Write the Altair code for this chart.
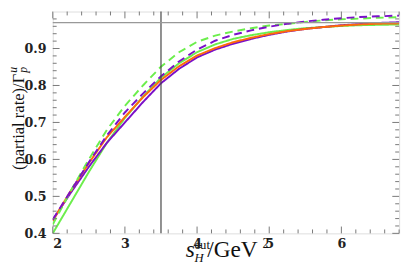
import altair as alt
import pandas as pd

# ---- data ----
s_cut = [2.0, 2.25, 2.5, 2.75, 3.0, 3.25, 3.5, 3.75, 4.0, 4.25, 4.5, 4.75,
         5.0, 5.25, 5.5, 5.75, 6.0, 6.25, 6.5, 6.8]
purple_solid = [0.436, 0.510, 0.580, 0.645, 0.700, 0.755, 0.806, 0.845, 0.876, 0.897,
                0.913, 0.926, 0.937, 0.946, 0.953, 0.958, 0.963, 0.966, 0.969, 0.971]
orange_solid = [0.434, 0.515, 0.590, 0.660, 0.715, 0.768, 0.815, 0.852, 0.881, 0.901,
                0.917, 0.929, 0.939, 0.947, 0.953, 0.958, 0.962, 0.965, 0.967, 0.968]
green_solid = [0.400, 0.483, 0.566, 0.645, 0.712, 0.770, 0.821, 0.860, 0.890, 0.911,
               0.926, 0.936, 0.944, 0.950, 0.955, 0.958, 0.961, 0.963, 0.964, 0.965]
green_dashed = [0.424, 0.515, 0.600, 0.680, 0.745, 0.800, 0.851, 0.890, 0.918, 0.935,
                0.946, 0.955, 0.962, 0.967, 0.972, 0.976, 0.979, 0.981, 0.983, 0.985]
purple_dashed = [0.437, 0.515, 0.592, 0.665, 0.727, 0.778, 0.825, 0.865, 0.897, 0.921,
                 0.937, 0.949, 0.959, 0.967, 0.973, 0.978, 0.982, 0.985, 0.987, 0.989]

series_names = ["green_solid", "purple_solid", "orange_solid", "green_dashed", "purple_dashed"]
series_vals = [green_solid, purple_solid, orange_solid, green_dashed, purple_dashed]
series_colors = ["#6CEE4C", "#7A10C8", "#FF6A0A", "#6CEE4C", "#7A10C8"]
series_dash = [[1, 0], [1, 0], [1, 0], [8, 5], [8, 5]]

x_major = [2, 3, 4, 5, 6]
y_major = [0.4, 0.5, 0.6, 0.7, 0.8, 0.9]
x_minor = [round(2 + 0.2 * i, 2) for i in range(0, 25) if (i % 5) != 0]
y_minor = [round(0.4 + 0.02 * i, 3) for i in range(0, 31) if (i % 5) != 0]
v_line = [3.5]
h_line = [0.97]

W, H = 356, 228
XDOM = [2, 6.8]
YDOM = [0.4, 1.0]

xs = alt.Scale(domain=XDOM, nice=False, zero=False)
ys = alt.Scale(domain=YDOM, nice=False, zero=False)

LABEL_FONT = "'DejaVu Serif', serif"
TITLE_FONT = "'Liberation Serif', serif"

xaxis = alt.Axis(values=x_major, format="d", ticks=False, domain=False, grid=False,
                 labelFont=LABEL_FONT, labelFontWeight="bold", labelFontSize=13,
                 labelColor="#222", labelPadding=5, title=None)
yaxis = alt.Axis(values=y_major, format=".1f", ticks=False, domain=False, grid=False,
                 labelFont=LABEL_FONT, labelFontWeight="bold", labelFontSize=13,
                 labelColor="#222", labelPadding=7, title=None)

layers = []
for name, vals, col, dash in zip(series_names, series_vals, series_colors, series_dash):
    df = pd.DataFrame({"x": s_cut, "y": vals})
    layers.append(
        alt.Chart(df).mark_line(color=col, strokeWidth=2, strokeDash=dash, clip=True)
        .encode(x=alt.X("x:Q", scale=xs, axis=xaxis), y=alt.Y("y:Q", scale=ys, axis=yaxis))
    )

vdf = pd.DataFrame({"x": v_line})
hdf = pd.DataFrame({"y": h_line})
layers.append(alt.Chart(vdf).mark_rule(color="#444", strokeWidth=1.2)
              .encode(x=alt.X("x:Q", scale=xs)))
layers.append(alt.Chart(hdf).mark_rule(color="#999", strokeWidth=1.5)
              .encode(y=alt.Y("y:Q", scale=ys)))

tick_col = "#777"
def xticks(vals, length):
    d = pd.DataFrame({"x": vals})
    b = alt.Chart(d).mark_rule(color=tick_col, strokeWidth=1).encode(
        x=alt.X("x:Q", scale=xs), y=alt.value(H), y2=alt.value(H - length))
    t = alt.Chart(d).mark_rule(color=tick_col, strokeWidth=1).encode(
        x=alt.X("x:Q", scale=xs), y=alt.value(0), y2=alt.value(length))
    return [b, t]

def yticks(vals, length):
    d = pd.DataFrame({"y": vals})
    l = alt.Chart(d).mark_rule(color=tick_col, strokeWidth=1).encode(
        y=alt.Y("y:Q", scale=ys), x=alt.value(0), x2=alt.value(length))
    r = alt.Chart(d).mark_rule(color=tick_col, strokeWidth=1).encode(
        y=alt.Y("y:Q", scale=ys), x=alt.value(W), x2=alt.value(W - length))
    return [l, r]

layers += xticks(x_major, 7) + xticks(x_minor, 4) + yticks(y_major, 7) + yticks(y_minor, 4)

# ---- axis titles built from pieces (sub/superscripts) ----
def txt(s, x, y, size, style="normal", angle=0, align="left"):
    return alt.Chart(pd.DataFrame({"t": [s]})).mark_text(
        font=TITLE_FONT, fontSize=size, fontStyle=style, angle=angle,
        align=align, baseline="alphabetic", color="#111"
    ).encode(text="t:N", x=alt.value(x), y=alt.value(y))

ox, oy = 54.3, 8
layers += [
    txt("s", 191 - ox, 260 - oy, 24, "italic"),
    txt("cut", 200 - ox, 252 - oy, 13),
    txt("H", 200 - ox, 265 - oy, 13, "italic"),
    txt("/GeV", 213 - ox, 260 - oy, 24),
    txt("2", 270 - ox, 251 - oy, 14),
    txt("(partial rate)/Γ", 25 - ox, 72 - oy, 17, angle=270, align="right"),
    txt("u", 18 - ox, 71 - oy, 12, "italic", angle=270, align="left"),
    txt("p", 28 - ox, 71 - oy, 12, "italic", angle=270, align="left"),
]

chart = alt.layer(*layers).properties(
    width=W, height=H,
    padding={"left": 46, "top": 0, "right": 4, "bottom": 33},
    autosize=alt.AutoSizeParams(type="none"),
).configure_view(stroke="#666", strokeWidth=1).configure(background="white")

chart.save("out.html", embed_options={"renderer": "svg", "actions": False})
